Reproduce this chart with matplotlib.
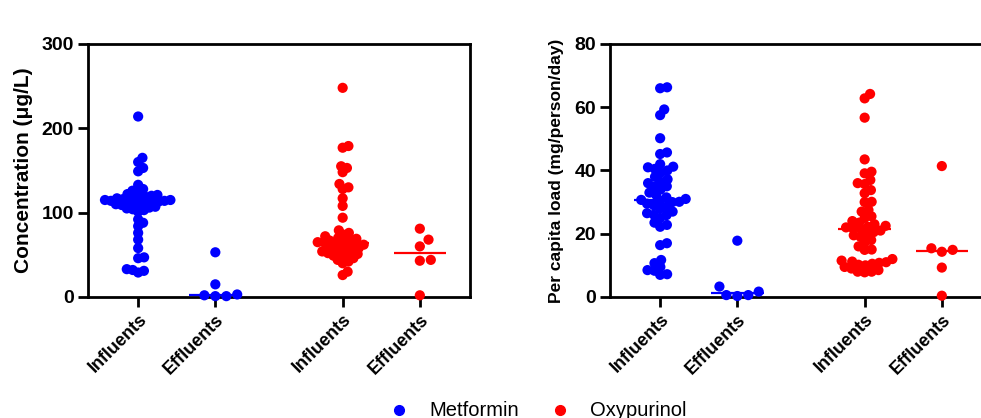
import numpy as np
import matplotlib
matplotlib.use('Agg')
import matplotlib.pyplot as plt
from matplotlib.lines import Line2D

plt.rcParams['font.family'] = ['Liberation Sans', 'DejaVu Sans']

# group positions on the x axis (gap between the two compounds)
groups = ['Influents', 'Effluents', 'Influents', 'Effluents']
xpos = [1, 2, 3.65, 4.65]
colors = ['#0000FF', '#0000FF', '#FF0000', '#FF0000']

# concentrations (ug/L)
met_inf_conc = [214, 165, 160, 153, 149, 133, 128, 126, 124, 122, 121, 120, 119, 118,
                117, 116, 116, 115, 115, 114, 114, 113, 113, 112, 112, 111, 110, 109,
                108, 107, 106, 105, 104, 103, 101, 92, 88, 84, 76, 68, 58, 47, 46, 33,
                32, 31, 29]
met_eff_conc = [53, 15, 3, 1, 2, 1]
oxy_inf_conc = [248, 179, 177, 155, 153, 148, 134, 130, 128, 117, 108, 94, 79, 76, 74,
                72, 70, 69, 68, 67, 66, 65, 65, 64, 63, 62, 61, 60, 59, 58, 57, 56, 55,
                54, 53, 52, 51, 50, 49, 48, 46, 44, 42, 40, 30, 26]
oxy_eff_conc = [81, 68, 60, 44, 43, 2]

# per capita loads (mg/person/day)
met_inf_load = [66.3, 66, 59.3, 57.5, 50.2, 45.7, 45.2, 42, 41.2, 41, 40.5, 40, 39.3,
                38, 37.2, 36.5, 36, 35, 34.9, 34, 33, 32.3, 31.5, 31, 30.7, 30.5, 30.1,
                30, 29.5, 29, 28.6, 28, 27, 26.5, 26, 25.9, 25, 23.5, 22.8, 22.2, 17,
                16.4, 11.7, 10.7, 9.5, 8.5, 8.3, 7.2, 7]
met_eff_load = [17.8, 3.3, 0.3, 0.6, 1.7, 0.6]
oxy_inf_load = [64.2, 62.8, 56.7, 43.5, 39.6, 39.1, 37, 36, 35.7, 33.8, 32.8, 30.1, 30,
                27.5, 27, 25.5, 25, 24, 23.5, 23, 22.5, 22.2, 22, 21.7, 21.4, 21, 20.5,
                20, 19.5, 19, 18, 17.2, 16, 15, 14.9, 12, 11.5, 11.2, 11, 10.8, 10.5,
                10.2, 10, 9.5, 9, 8.5, 8, 8, 7.8]
oxy_eff_load = [41.4, 15.4, 14.9, 14.3, 9.3, 0.4]


def swarm_offsets(ys_pix, d):
    # simple beeswarm: place each point as close to the centre as possible
    order = np.argsort(ys_pix)
    placed = []
    offs = np.zeros(len(ys_pix))
    for i in order:
        y = ys_pix[i]
        cands = [0.0]
        for px, py in placed:
            dy = y - py
            if abs(dy) < d:
                dx = np.sqrt(d * d - dy * dy)
                cands += [px + dx, px - dx]
        cands.sort(key=abs)
        for c in cands:
            if all((c - px) ** 2 + (y - py) ** 2 >= d * d - 1e-6 for px, py in placed):
                break
        placed.append((c, y))
        offs[i] = c
    return offs


def panel(ax, data, ymax, yticks, ylabel, labx, labsize, gaps):
    ax.set_xlim(0.35, 5.3)
    ax.set_ylim(0, ymax)
    ax.set_yticks(yticks)
    ax.set_xticks(xpos)
    ax.set_xticklabels(groups, rotation=45, ha='right', rotation_mode='anchor',
                       fontweight='bold', fontsize=13)
    for lab in ax.get_yticklabels():
        lab.set_fontweight('bold')
        lab.set_fontsize(14)
    ax.set_ylabel(ylabel, fontweight='bold', fontsize=labsize, va='center')
    ax.yaxis.set_label_coords(labx, 0.5)
    for s in ax.spines.values():
        s.set_linewidth(2)
    ax.tick_params(width=2, length=7, color='black', pad=3)

    fig.canvas.draw()
    for x0, vals, c, gap in zip(xpos, data, colors, gaps):
        vals = np.array(vals, dtype=float)
        pts = ax.transData.transform(np.column_stack([np.full(len(vals), x0), vals]))
        offs = swarm_offsets(pts[:, 1], gap)
        pts[:, 0] += offs
        xy = ax.transData.inverted().transform(pts)
        ax.scatter(xy[:, 0], xy[:, 1], s=54, color=c, edgecolors='none',
                   zorder=4, clip_on=False)
        med = np.median(vals)
        ax.plot([x0 - 0.34, x0 + 0.34], [med, med], color=c, lw=1.6, zorder=3,
                solid_capstyle='butt')


fig = plt.figure(figsize=(9.81, 4.18), dpi=100)
ax1 = fig.add_axes([0.0897, 0.2895, 0.3894, 0.6053])
ax2 = fig.add_axes([0.6218, 0.2895, 0.3894, 0.6053])

panel(ax1, [met_inf_conc, met_eff_conc, oxy_inf_conc, oxy_eff_conc], 300,
      [0, 100, 200, 300], 'Concentration (μg/L)', -0.168, 15, [6.0, 11, 6.0, 11])
panel(ax2, [met_inf_load, met_eff_load, oxy_inf_load, oxy_eff_load], 80,
      [0, 20, 40, 60, 80], 'Per capita load (mg/person/day)', -0.141, 12.5,
      [7.0, 11, 7.0, 11])

# legend drawn in figure coordinates
leg_names = ['Metformin', 'Oxypurinol']
leg_colors = ['#0000FF', '#FF0000']
leg_dot_x = [399 / 981, 560 / 981]
leg_y = 1 - 410 / 418
for name, c, lx in zip(leg_names, leg_colors, leg_dot_x):
    fig.add_artist(Line2D([lx], [leg_y], marker='o', ls='none', color=c,
                          markersize=7, transform=fig.transFigure))
    fig.text(lx + 30 / 981, leg_y, name, fontsize=14.5, va='center', ha='left')

fig.savefig('out.png', dpi=100)
